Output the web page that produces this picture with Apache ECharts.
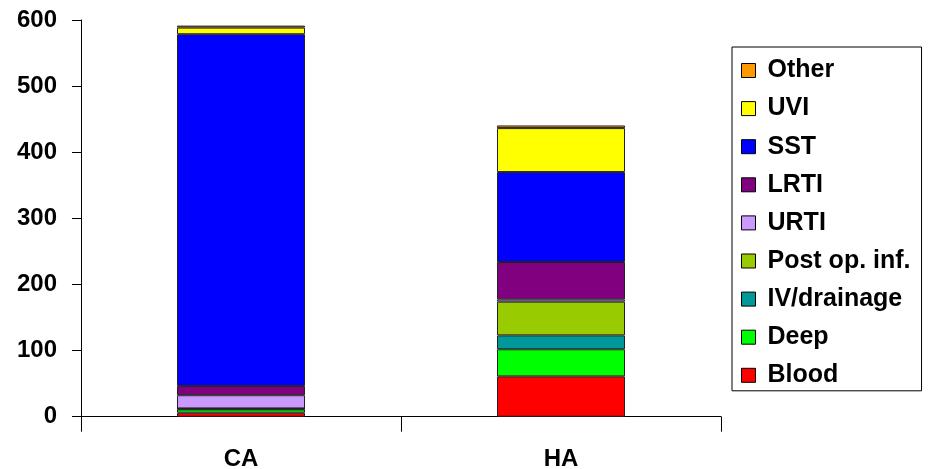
<!DOCTYPE html>
<html>
<head>
<meta charset="utf-8">
<script src="https://cdn.jsdelivr.net/npm/echarts@6/dist/echarts.min.js"></script>
<style>html,body{margin:0;padding:0;background:#fff}#c{width:928px;height:469px}</style>
</head>
<body>
<div id="c"></div>
<script>
const categories = ['CA', 'HA'];
const seriesNames = ['Blood', 'Deep', 'IV/drainage', 'Post op. inf.', 'URTI', 'LRTI', 'SST', 'UVI', 'Other'];
const blood = [6, 61];
const deep = [5, 41];
const ivDrainage = [1, 21];
const postOp = [0.5, 51];
const urti = [20, 3.5];
const lrti = [14, 56.5];
const sst = [532, 136];
const uvi = [10, 66.5];
const other = [3, 4];
const yTicks = [0, 100, 200, 300, 400, 500, 600];
const colors = ['#FF0000', '#00FF00', '#009999', '#99CC00', '#CC99FF', '#800080', '#0000FF', '#FFFF00', '#FF9900'];
const values = [blood, deep, ivDrainage, postOp, urti, lrti, sst, uvi, other];

const chart = echarts.init(document.getElementById('c'), null, {renderer: 'canvas'});
const font = '"Liberation Sans", Arial, sans-serif';
chart.setOption({
  animation: false,
  backgroundColor: '#fff',
  grid: {left: 81, right: 207, top: 20, bottom: 52.3, containLabel: false, outerBoundsMode: 'none'},
  legend: {
    orient: 'vertical',
    left: 732,
    top: 47,
    padding: [11, 11, 3, 9],
    itemGap: 13.1,
    itemWidth: 14,
    itemHeight: 14,
    icon: 'rect',
    borderColor: '#000',
    borderWidth: 1,
    backgroundColor: '#fff',
    borderRadius: 0,
    data: seriesNames.slice().reverse(),
    textStyle: {fontFamily: font, fontWeight: 'bold', fontSize: 25, color: '#000', lineHeight: 25, padding: [0, 0, 0, 7]},
    itemStyle: {borderColor: '#000', borderWidth: 1}
  },
  xAxis: {
    type: 'category',
    data: categories,
    axisLine: {lineStyle: {color: '#000', width: 1}},
    axisTick: {show: true, length: 15, lineStyle: {color: '#000'}},
    axisLabel: {fontFamily: font, fontWeight: 'bold', fontSize: 24, color: '#000', margin: 31}
  },
  yAxis: {
    type: 'value',
    min: yTicks[0],
    max: yTicks[yTicks.length - 1],
    interval: 100,
    splitLine: {show: false},
    axisLine: {show: true, lineStyle: {color: '#000', width: 1}},
    axisTick: {show: true, length: 9, lineStyle: {color: '#000'}},
    axisLabel: {fontFamily: font, fontWeight: 'bold', fontSize: 24, color: '#000', margin: 24}
  },
  series: seriesNames.map((n, i) => ({
    name: n,
    type: 'bar',
    stack: 'total',
    barWidth: 128,
    data: values[i],
    itemStyle: {color: colors[i], borderColor: '#222', borderWidth: 1}
  }))
});
</script>
</body>
</html>
